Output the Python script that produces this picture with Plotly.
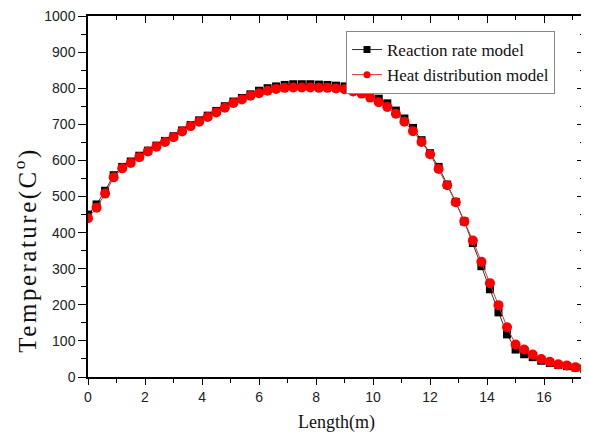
import plotly.graph_objects as go

# Data: length in m, temperature in °C
length_m = [round(i * 0.3, 1) for i in range(59)]

reaction_rate = [450, 478, 516, 559, 582, 597, 613, 627, 641, 654,
                 667, 683, 698, 711, 724, 737, 750, 763, 773, 783,
                 793, 800, 805, 809, 811, 811, 811, 810, 809, 807,
                 805, 798, 791, 782, 771, 758, 738, 716, 690, 656,
                 620, 582, 533, 485, 431, 371, 307, 243, 179, 118,
                 76, 63, 55, 45, 39, 33, 30, 26, 23]

heat_distribution = [440, 469, 508, 553, 578, 593, 609, 625, 638, 651,
                     664, 680, 695, 707, 720, 733, 746, 759, 769, 779,
                     786, 793, 798, 801, 802, 802, 802, 801, 801, 799,
                     797, 791, 785, 774, 761, 748, 729, 707, 681, 651,
                     617, 576, 531, 484, 431, 378, 319, 260, 199, 138,
                     90, 76, 62, 50, 42, 35, 32, 27, 24]

series_names = ["Reaction rate model", "Heat distribution model"]
x_ticks = [0, 2, 4, 6, 8, 10, 12, 14, 16]
y_ticks = [0, 100, 200, 300, 400, 500, 600, 700, 800, 900, 1000]
x_title = "Length(m)"
y_title = "Temperature(C<sup>o</sup>)"

X_RANGE = [0, 17.4]
Y_RANGE = [0, 1000]

BLACK_LINE = "#333333"
RED_LINE = "#e03030"

fig = go.Figure()
fig.add_trace(go.Scatter(
    x=length_m, y=reaction_rate, name=series_names[0], mode="lines+markers",
    line=dict(color=BLACK_LINE, width=1),
    marker=dict(symbol="square", size=8, color="#000000"),
    showlegend=False,
))
fig.add_trace(go.Scatter(
    x=length_m, y=heat_distribution, name=series_names[1], mode="lines+markers",
    line=dict(color=RED_LINE, width=1),
    marker=dict(symbol="circle", size=10, color="#ff0000"),
    showlegend=False,
))
# legend entries with the smaller legend symbols
fig.add_trace(go.Scatter(
    x=[None], y=[None], name=series_names[0], mode="lines+markers",
    line=dict(color=BLACK_LINE, width=1),
    marker=dict(symbol="square", size=7, color="#000000"),
))
fig.add_trace(go.Scatter(
    x=[None], y=[None], name=series_names[1], mode="lines+markers",
    line=dict(color=RED_LINE, width=1),
    marker=dict(symbol="circle", size=7, color="#ff0000"),
))
# dummy trace to anchor the mirrored (inward-tick) axes
fig.add_trace(go.Scatter(
    x=length_m, y=heat_distribution, xaxis="x2", yaxis="y2", mode="none",
    showlegend=False, hoverinfo="skip",
))

tick_font = dict(family="Liberation Sans, Arial, sans-serif", size=14, color="#222222")
serif = "Liberation Serif, Times New Roman, serif"

# page body has an 8px margin: compensate so plot area sits at about x 88..584, y 16..377
fig.update_layout(
    width=581, height=429,
    margin=dict(l=80, r=5, t=8, b=60),
    paper_bgcolor="white", plot_bgcolor="white",
    showlegend=True,
    legend=dict(
        x=(346 - 88) / 496, y=(377.5 - 31) / 361.5, xanchor="left", yanchor="top",
        bordercolor="#888888", borderwidth=1, bgcolor="white",
        font=dict(family=serif, size=17, color="#111111"),
        tracegroupgap=0, itemwidth=30,
    ),
    xaxis=dict(
        range=X_RANGE, tickvals=x_ticks, ticks="outside", ticklen=6, tickwidth=1.3,
        tickcolor="black", showline=True, linecolor="black", linewidth=1.5,
        showgrid=False, zeroline=False, tickfont=tick_font, automargin=False,
        ticklabeloverflow="allow",
        minor=dict(dtick=1, ticks="outside", ticklen=4, tickwidth=1.2, tickcolor="black", showgrid=False),
    ),
    yaxis=dict(
        range=Y_RANGE, tickvals=y_ticks, ticks="outside", ticklen=8, tickwidth=1.3,
        tickcolor="black", showline=True, linecolor="black", linewidth=1.5,
        showgrid=False, zeroline=False, tickfont=tick_font, automargin=False,
        ticklabeloverflow="allow",
        minor=dict(dtick=50, ticks="outside", ticklen=5, tickwidth=1.2, tickcolor="black", showgrid=False),
    ),
    xaxis2=dict(
        overlaying="x", side="top", anchor="y", range=X_RANGE, tickvals=x_ticks,
        ticks="inside", ticklen=7, tickwidth=1.3, tickcolor="black",
        showticklabels=False, showline=True, linecolor="black", linewidth=1.5,
        showgrid=False, zeroline=False, automargin=False,
        minor=dict(dtick=1, ticks="inside", ticklen=4, tickwidth=1.2, tickcolor="black", showgrid=False),
    ),
    yaxis2=dict(
        overlaying="y", side="right", anchor="x", range=Y_RANGE, tickvals=y_ticks,
        ticks="inside", ticklen=7, tickwidth=1.3, tickcolor="black",
        showticklabels=False, showline=True, linecolor="black", linewidth=1.5,
        showgrid=False, zeroline=False, automargin=False,
        minor=dict(dtick=50, ticks="inside", ticklen=4, tickwidth=1.2, tickcolor="black", showgrid=False),
    ),
    annotations=[
        dict(text=x_title, xref="paper", yref="paper", x=0.502, y=-(423 - 377.5) / 361.5,
             xanchor="center", yanchor="middle", showarrow=False,
             font=dict(family=serif, size=18, color="#111111")),
        dict(text='<span style="letter-spacing:2.5px">' + y_title + '</span>',
             xref="paper", yref="paper", x=(26 - 88) / 496, y=(377.5 - 250) / 361.5,
             xanchor="center", yanchor="middle", showarrow=False, textangle=-90,
             font=dict(family=serif, size=25, color="#111111")),
    ],
)

fig.write_html("out.html")
